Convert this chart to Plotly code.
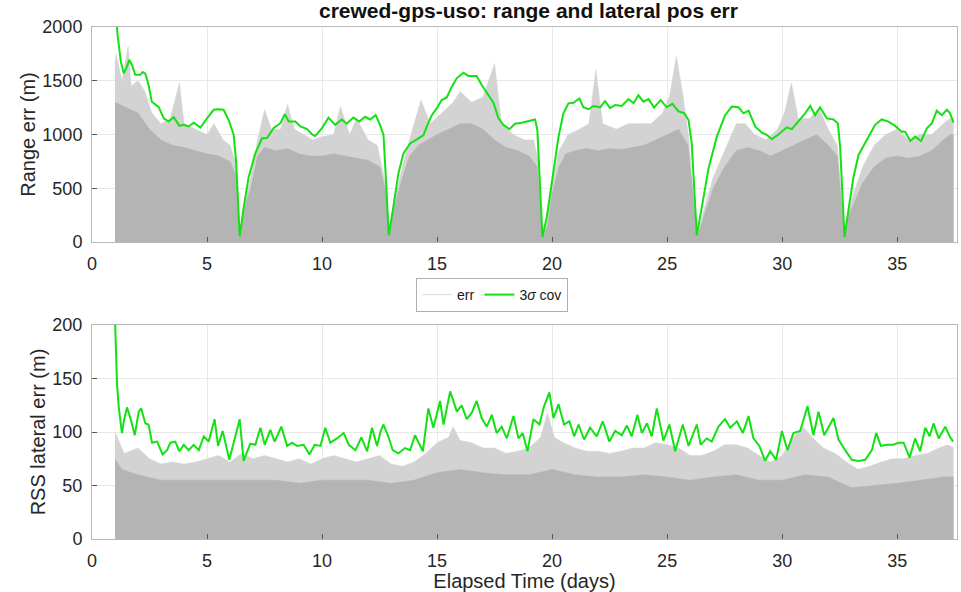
import plotly.graph_objects as go

# ---------------- data ----------------
# Top panel: 3-sigma covariance of range error (m)
cov_range_day = [1.0, 1.1, 1.25, 1.38, 1.5, 1.62, 1.75, 1.88, 2.1, 2.2, 2.32, 2.46, 2.6, 2.75, 2.9,
                 3.12, 3.33, 3.55, 3.8, 3.99, 4.2, 4.42, 4.71, 5.0, 5.29, 5.5, 5.72, 5.94, 6.16, 6.26,
                 6.35, 6.42, 6.6, 6.81, 7.1, 7.39, 7.6, 7.9, 8.19, 8.38, 8.55, 8.84, 9.06, 9.35, 9.57,
                 9.7, 9.99, 10.28, 10.57, 10.86, 11.07, 11.36, 11.62, 11.87, 12.09, 12.33, 12.52, 12.67,
                 12.78, 12.9, 13.1, 13.32, 13.54, 13.83, 14.12, 14.41, 14.55, 14.77, 14.99, 15.2, 15.42,
                 15.64, 15.86, 16.15, 16.36, 16.72, 16.94, 17.23, 17.45, 17.67, 17.88, 18.14, 18.39,
                 18.68, 18.97, 19.26, 19.36, 19.45, 19.58, 19.77, 19.99, 20.28, 20.49, 20.71, 20.93,
                 21.19, 21.36, 21.58, 21.8, 22.09, 22.3, 22.52, 22.74, 23.03, 23.32, 23.54, 23.75, 23.97,
                 24.19, 24.43, 24.72, 24.98, 25.23, 25.49, 25.74, 25.93, 26.07, 26.17, 26.29, 26.51,
                 26.8, 27.16, 27.52, 27.81, 28.1, 28.32, 28.54, 28.83, 29.12, 29.34, 29.55, 29.84, 30.2,
                 30.42, 30.71, 31.0, 31.22, 31.43, 31.65, 31.94, 32.23, 32.42, 32.52, 32.62, 32.71,
                 32.88, 33.1, 33.32, 33.54, 33.75, 34.04, 34.33, 34.62, 34.91, 35.2, 35.35, 35.57, 35.78,
                 36.04, 36.29, 36.51, 36.72, 36.94, 37.16, 37.3, 37.45]
cov_range_val = [2300, 1950, 1680, 1570, 1620, 1695, 1640, 1555, 1555, 1580, 1565, 1460, 1305, 1280, 1255,
                 1150, 1120, 1160, 1080, 1090, 1075, 1110, 1065, 1150, 1230, 1235, 1230, 1135, 995, 760,
                 360, 55, 330, 605, 825, 965, 965, 1060, 1105, 1190, 1120, 1120, 1075, 1050, 1000,
                 985, 1057, 1157, 1090, 1140, 1100, 1157, 1120, 1165, 1140, 1180, 1090, 995,
                 575, 62, 327, 640, 825, 917, 955, 995, 1073, 1180, 1245, 1320, 1345,
                 1445, 1525, 1575, 1545, 1545, 1460, 1360, 1295, 1150, 1090, 1050, 1100,
                 1110, 1125, 1140, 1040, 575, 47, 233, 575, 980, 1197, 1290, 1295,
                 1335, 1253, 1235, 1265, 1253, 1310, 1245, 1275, 1265, 1330, 1290, 1365, 1305,
                 1330, 1250, 1320, 1253, 1285, 1215, 1200, 1135, 917, 513, 62, 327,
                 685, 980, 1180, 1260, 1253, 1197, 1222, 1073, 1017, 995, 955, 1000, 1067,
                 1050, 1120, 1197, 1265, 1180, 1253, 1150, 1140, 1105, 885, 360, 47,
                 295, 605, 810, 900, 980, 1090, 1140, 1120, 1080, 1025, 1025, 940, 980,
                 940, 1057, 1105, 1222, 1180, 1230, 1197, 1110]

# Top panel: range error, upper edge of the dense gray band
err_range_day = [1.0, 1.5, 2.0, 2.5, 3.0, 3.5, 4.0, 4.5, 5.0, 5.5, 6.0, 6.3, 6.42, 6.6, 6.9, 7.2, 7.5,
                 8.0, 8.5, 9.0, 9.5, 10.0, 10.5, 11.0, 11.5, 12.0, 12.5, 12.8, 12.9, 13.1, 13.5, 13.8,
                 14.2, 14.6, 15.0, 15.5, 16.0, 16.5, 17.0, 17.5, 18.0, 18.5, 19.0, 19.35, 19.58, 19.8,
                 20.0, 20.3, 20.6, 21.0, 21.5, 22.0, 22.5, 23.0, 23.5, 24.0, 24.5, 25.0, 25.5, 25.9,
                 26.15, 26.29, 26.6, 27.0, 27.5, 28.0, 28.5, 29.0, 29.5, 30.0, 30.5, 31.0, 31.5, 32.0,
                 32.4, 32.6, 32.71, 32.9, 33.1, 33.5, 34.0, 34.5, 35.0, 35.5, 36.0, 36.5, 37.0, 37.3, 37.45]
err_range_val = [1300, 1250, 1200, 1050, 950, 900, 880, 850, 820, 800, 750, 600, 50, 300, 500, 800, 880,
                 850, 870, 820, 800, 800, 820, 800, 780, 760, 700, 450, 50, 300, 600, 800,
                 900, 950, 1000, 1050, 1100, 1100, 1050, 950, 880, 850, 800, 700, 40, 150,
                 450, 700, 820, 850, 870, 850, 870, 860, 880, 900, 950, 1000, 1050, 900,
                 400, 40, 250, 500, 700, 850, 880, 850, 800, 850, 900, 950, 1000, 900,
                 800, 300, 40, 250, 350, 550, 700, 780, 800, 780, 800, 850, 950, 1000, 1000]

# Top panel: range error, sparse peaks (light gray)
err_range_peak_day = [1.0, 1.05, 1.3, 1.57, 1.7, 2.0, 2.3, 2.6, 3.0, 3.4, 3.8, 4.0, 4.5, 5.0, 5.3, 5.7,
                      6.0, 6.3, 6.42, 6.6, 6.9, 7.2, 7.5, 7.8, 8.2, 8.5, 8.8, 9.2, 9.6, 10.0, 10.5, 10.8,
                      11.2, 11.5, 12.0, 12.4, 12.8, 12.9, 13.1, 13.5, 13.8, 14.3, 14.7, 15.2, 15.7, 16.0,
                      16.5, 17.0, 17.5, 17.8, 18.3, 18.8, 19.2, 19.4, 19.58, 19.8, 20.0, 20.3, 20.7, 21.2,
                      21.6, 21.9, 22.2, 22.8, 23.3, 23.8, 24.3, 24.8, 25.1, 25.4, 25.7, 25.95, 26.15, 26.29,
                      26.6, 27.0, 27.5, 28.0, 28.4, 28.8, 29.3, 29.8, 30.1, 30.4, 30.7, 31.2, 31.6, 32.0,
                      32.4, 32.6, 32.71, 32.9, 33.1, 33.5, 34.0, 34.5, 35.0, 35.5, 36.0, 36.5, 37.0, 37.3,
                      37.45]
err_range_peak_val = [1650, 1750, 1500, 1820, 1450, 1500, 1400, 1200, 1100, 1150, 1480, 1100, 1050, 1000,
                      1100, 950, 900, 700, 50, 350, 600, 950, 1230, 1050, 1050, 1280, 1050, 1000, 950,
                      980, 1000, 1260, 1000, 1150, 950, 900, 500, 50, 350, 700, 950, 1320, 1100, 1200,
                      1300, 1400, 1300, 1350, 1660, 1100, 1000, 950, 950, 750, 40, 200, 550, 850, 1000,
                      1050, 1100, 1600, 1100, 1050, 1100, 1100, 1100, 1200, 1350, 1725, 1350, 950, 450,
                      40, 300, 600, 850, 1100, 1100, 1000, 950, 1050, 1200, 1480, 1150, 1150, 1250, 1050,
                      900, 350, 40, 300, 450, 700, 900, 1000, 1050, 950, 1000, 1000, 1100, 1150, 1150]

# Bottom panel: 3-sigma covariance of RSS lateral error (m)
cov_lat_day = [1.0, 1.05, 1.09, 1.16, 1.3, 1.4, 1.52, 1.67, 1.86, 2.03, 2.14, 2.32, 2.46, 2.61, 2.83,
               3.07, 3.26, 3.41, 3.62, 3.8, 3.99, 4.2, 4.42, 4.64, 4.86, 5.07, 5.33, 5.48, 5.68, 5.97,
               6.16, 6.42, 6.59, 6.88, 7.1, 7.32, 7.51, 7.75, 7.94, 8.23, 8.48, 8.7, 8.91, 9.2, 9.45,
               9.68, 9.93, 10.14, 10.36, 10.65, 10.94, 11.16, 11.45, 11.71, 11.96, 12.17, 12.39, 12.55,
               12.67, 12.88, 13.07, 13.32, 13.61, 13.83, 14.04, 14.19, 14.38, 14.62, 14.84, 15.13,
               15.28, 15.57, 15.86, 16.07, 16.29, 16.51, 16.72, 16.94, 17.16, 17.38, 17.59, 17.81,
               18.03, 18.32, 18.54, 18.72, 18.93, 19.19, 19.45, 19.65, 19.88, 20.06, 20.28, 20.52,
               20.75, 20.96, 21.15, 21.39, 21.65, 21.94, 22.2, 22.49, 22.74, 23.03, 23.25, 23.46,
               23.71, 23.9, 24.12, 24.33, 24.55, 24.84, 25.1, 25.35, 25.68, 25.93, 26.29, 26.46,
               26.72, 26.94, 27.23, 27.52, 27.74, 28.03, 28.29, 28.54, 28.75, 29.01, 29.26, 29.48,
               29.74, 29.99, 30.23, 30.49, 30.78, 31.1, 31.36, 31.58, 31.83, 32.23, 32.45, 32.74,
               33.03, 33.32, 33.61, 33.9, 34.09, 34.29, 34.55, 34.81, 35.06, 35.28, 35.54, 35.78,
               36.0, 36.22, 36.41, 36.58, 36.8, 37.09, 37.28, 37.43]
cov_lat_val = [205, 160, 144, 124, 99, 112, 123, 113, 97, 119, 122, 108, 107, 90, 91,
               79, 83, 90, 91, 82, 88, 83, 88, 83, 96, 91, 112, 87, 101, 74,
               91, 112, 73, 89, 88, 104, 88, 102, 91, 105, 87, 90, 87, 88, 79,
               88, 87, 104, 90, 94, 99, 88, 83, 95, 82, 104, 87, 101,
               107, 96, 83, 80, 85, 83, 97, 91, 82, 122, 104, 129,
               107, 138, 119, 125, 112, 118, 129, 113, 105, 116, 99, 105,
               94, 115, 94, 99, 82, 112, 107, 124, 137, 113, 126, 107,
               110, 96, 107, 93, 104, 96, 110, 91, 101, 97, 106, 96,
               116, 99, 108, 96, 122, 92, 107, 82, 107, 87, 107, 88,
               94, 91, 105, 112, 104, 110, 99, 115, 94, 87, 73, 82,
               74, 101, 83, 99, 101, 124, 97, 119, 97, 113, 93, 83,
               74, 73, 74, 83, 99, 87, 88, 88, 90, 90, 76, 94,
               82, 104, 96, 108, 94, 105, 96, 91]

# Bottom panel: lateral error, dense band top and sparse peaks
err_lat_day = [1.0, 1.3, 2.0, 3.0, 4.0, 5.0, 6.0, 7.0, 8.0, 9.0, 10.0, 11.0, 12.0, 13.0, 14.0, 15.0,
               16.0, 17.0, 18.0, 19.0, 20.0, 21.0, 22.0, 23.0, 24.0, 25.0, 26.0, 27.0, 28.0, 29.0,
               30.0, 31.0, 32.0, 33.0, 34.0, 35.0, 36.0, 37.0, 37.45]
err_lat_val = [75, 65, 60, 55, 55, 55, 55, 55, 55, 52, 55, 55, 55, 52, 55, 62,
               65, 62, 60, 60, 65, 60, 58, 58, 60, 58, 55, 58, 60, 55,
               55, 60, 58, 48, 50, 52, 55, 58, 58]
err_lat_peak_day = [1.0, 1.1, 1.4, 2.0, 2.5, 3.0, 3.5, 4.0, 4.5, 5.0, 5.5, 6.0, 6.5, 7.0, 7.5, 8.0,
                    8.5, 9.0, 9.5, 10.0, 10.5, 11.0, 11.5, 12.0, 12.5, 13.0, 13.5, 14.0, 14.5, 15.0,
                    15.5, 15.7, 16.0, 16.5, 17.0, 17.5, 18.0, 18.5, 19.0, 19.5, 19.8, 20.1, 20.5, 21.0,
                    21.5, 22.0, 22.5, 23.0, 23.5, 24.0, 24.5, 25.0, 25.5, 26.0, 26.5, 27.0, 27.5, 28.0,
                    28.5, 29.0, 29.5, 30.0, 30.5, 30.9, 31.3, 31.8, 32.3, 32.8, 33.3, 33.8, 34.3, 34.8,
                    35.3, 35.8, 36.3, 36.8, 37.2, 37.45]
err_lat_peak_val = [100, 95, 80, 85, 75, 70, 72, 70, 72, 75, 78, 72, 80, 75, 78, 75,
                    72, 75, 70, 75, 78, 75, 72, 75, 78, 70, 68, 72, 80, 90,
                    95, 105, 92, 90, 85, 85, 80, 82, 85, 95, 118, 95, 90, 85,
                    82, 82, 80, 82, 85, 85, 90, 88, 85, 78, 78, 82, 88, 88,
                    85, 78, 72, 78, 95, 105, 95, 85, 80, 72, 65, 68, 72, 75,
                    75, 78, 80, 85, 88, 85]

x_ticks = [0, 5, 10, 15, 20, 25, 30, 35]
range_ticks = [0, 500, 1000, 1500, 2000]
lat_ticks = [0, 50, 100, 150, 200]

# ---------------- styling ----------------
GREEN = "rgb(20,225,20)"
GRAY_DENSE = "#b4b4b4"
GRAY_LIGHT = "#d3d3d3"
FONT = "Liberation Sans, Arial, Helvetica, sans-serif"
TXT = "#262626"

fig = go.Figure()

# top panel
fig.add_trace(go.Scatter(x=err_range_peak_day, y=err_range_peak_val, mode="lines", fill="tozeroy",
                         line=dict(color=GRAY_LIGHT, width=0.5), fillcolor=GRAY_LIGHT,
                         showlegend=False, hoverinfo="skip", xaxis="x", yaxis="y"))
fig.add_trace(go.Scatter(x=err_range_day, y=err_range_val, mode="lines", fill="tozeroy",
                         line=dict(color=GRAY_DENSE, width=0.5), fillcolor=GRAY_DENSE,
                         showlegend=False, hoverinfo="skip", xaxis="x", yaxis="y"))
fig.add_trace(go.Scatter(x=cov_range_day, y=cov_range_val, mode="lines",
                         line=dict(color=GREEN, width=2), showlegend=False, xaxis="x", yaxis="y"))

# bottom panel
fig.add_trace(go.Scatter(x=err_lat_peak_day, y=err_lat_peak_val, mode="lines", fill="tozeroy",
                         line=dict(color=GRAY_LIGHT, width=0.5), fillcolor=GRAY_LIGHT,
                         showlegend=False, hoverinfo="skip", xaxis="x2", yaxis="y2"))
fig.add_trace(go.Scatter(x=err_lat_day, y=err_lat_val, mode="lines", fill="tozeroy",
                         line=dict(color=GRAY_DENSE, width=0.5), fillcolor=GRAY_DENSE,
                         showlegend=False, hoverinfo="skip", xaxis="x2", yaxis="y2"))
fig.add_trace(go.Scatter(x=cov_lat_day, y=cov_lat_val, mode="lines",
                         line=dict(color=GREEN, width=2), showlegend=False, xaxis="x2", yaxis="y2"))

# legend entries
fig.add_trace(go.Scatter(x=[None], y=[None], mode="lines", name="err",
                         line=dict(color="#dedede", width=1), xaxis="x2", yaxis="y2"))
fig.add_trace(go.Scatter(x=[None], y=[None], mode="lines", name="3<i>σ</i> cov",
                         line=dict(color=GREEN, width=2), xaxis="x2", yaxis="y2"))

W, H = 961, 592
x0, x1 = 92 / W, 957 / W
top_dom = [1 - 242 / H, 1 - 27 / H]
bot_dom = [1 - 539 / H, 1 - 325 / H]

axis_common = dict(showgrid=True, gridcolor="#e8e8e8", gridwidth=1, zeroline=False,
                   showline=True, linecolor="#b8b8b8", linewidth=1, mirror=True,
                   ticks="inside", ticklen=5, tickcolor="#555555", ticklabelstandoff=5,
                   automargin=False,
                   tickfont=dict(family=FONT, size=18, color=TXT))

fig.update_layout(
    width=W, height=H,
    margin=dict(l=0, r=0, t=0, b=0, autoexpand=False),
    paper_bgcolor="white", plot_bgcolor="white",
    font=dict(family=FONT, color=TXT),
    xaxis=dict(domain=[x0, x1], range=[0, 37.6], tickvals=x_ticks, anchor="y", **axis_common),
    yaxis=dict(domain=top_dom, range=[0, 2000], tickvals=range_ticks, anchor="x",
               title=dict(text="Range err (m)", font=dict(family=FONT, size=20, color=TXT), standoff=1),
               **axis_common),
    xaxis2=dict(domain=[x0, x1], range=[0, 37.6], tickvals=x_ticks, anchor="y2",
                title=dict(text="Elapsed Time (days)", font=dict(family=FONT, size=20, color=TXT), standoff=8),
                **axis_common),
    yaxis2=dict(domain=bot_dom, range=[0, 200], tickvals=lat_ticks, anchor="x2",
                title=dict(text="RSS lateral err (m)", font=dict(family=FONT, size=20, color=TXT), standoff=1),
                **axis_common),
    legend=dict(orientation="h", x=492 / W, xanchor="center", y=1 - 295 / H, yanchor="middle",
                bgcolor="white", bordercolor="#b0b0b0", borderwidth=1,
                font=dict(family=FONT, size=14, color="#1a1a1a"),
                itemwidth=30, tracegroupgap=0),
    annotations=[dict(text="<b>crewed-gps-uso: range and lateral pos err</b>", x=528 / W, y=1 - 11 / H,
                      xref="paper", yref="paper", xanchor="center", yanchor="middle", showarrow=False,
                      font=dict(family=FONT, size=21, color="#111111"))],
)

fig.write_html("out.html")
